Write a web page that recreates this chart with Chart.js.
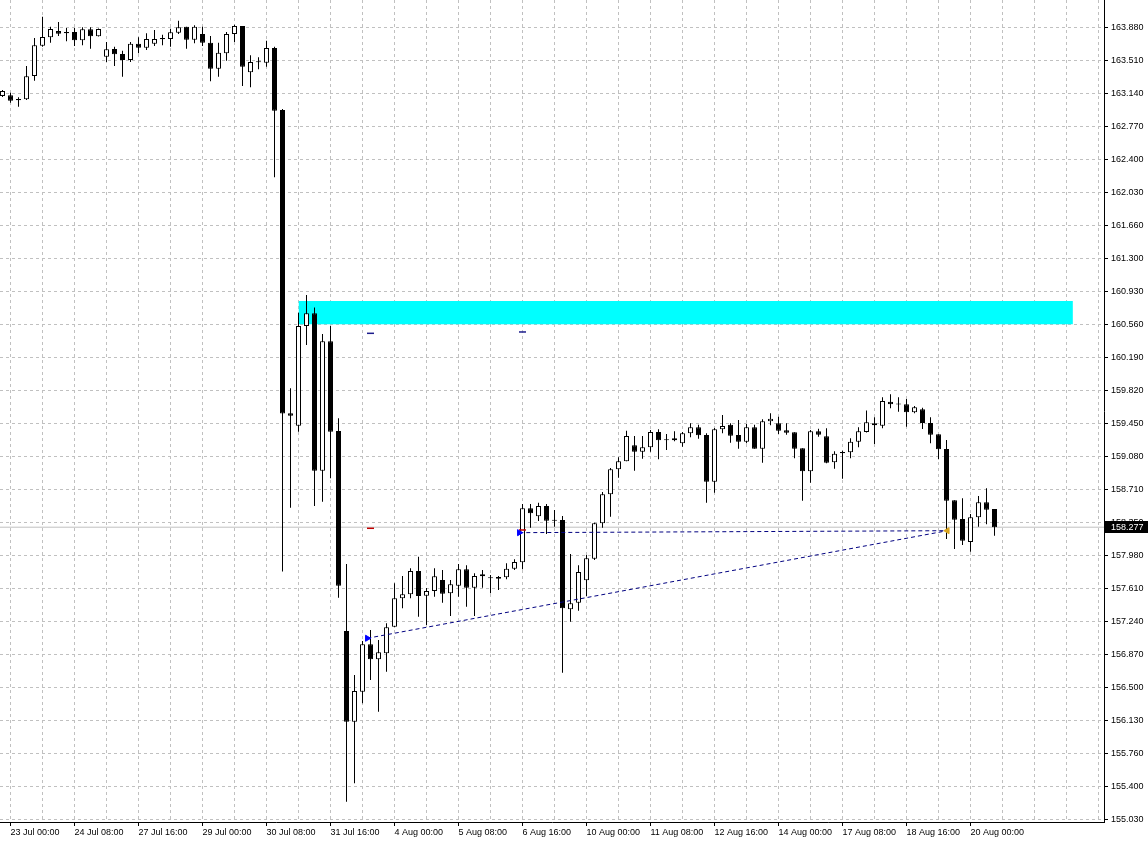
<!DOCTYPE html>
<html>
<head>
<meta charset="utf-8">
<script src="https://cdn.jsdelivr.net/npm/chart.js@4.4.1/dist/chart.umd.min.js"></script>
<style>
html,body{margin:0;padding:0;background:#fff;}
canvas{display:block;}
</style>
</head>
<body>
<canvas id="myChart" width="1148" height="841"></canvas>
<script>
// H4 bars, first bar 22 Jul 20:00
const open = [
163.112,163.120,163.078,163.075,163.336,163.676,163.770,163.840,163.829,163.829,
163.736,163.860,163.781,163.552,163.639,163.583,163.515,163.698,163.653,163.698,
163.762,163.751,163.821,163.889,163.743,163.807,163.709,163.418,163.590,163.807,
163.897,163.377,163.490,163.485,163.651,162.955,159.554,159.415,160.533,160.675,
158.911,160.361,159.356,157.113,156.096,156.433,156.964,156.796,156.863,157.161,
157.480,157.525,157.786,157.509,157.562,157.685,157.536,157.621,157.805,157.599,
157.726,157.704,157.719,157.715,157.812,157.884,158.489,158.399,158.515,158.350,
158.358,157.357,157.431,157.682,157.924,158.321,158.646,158.926,159.016,159.195,
159.124,159.173,159.344,159.255,159.251,159.218,159.330,159.397,159.311,158.787,
159.375,159.426,159.311,159.236,159.397,159.157,159.464,159.442,159.364,159.341,
159.162,158.904,159.352,159.296,159.005,159.120,159.117,159.236,159.344,159.442,
159.415,159.684,159.655,159.655,159.565,159.599,159.445,159.319,159.154,158.579,
158.369,158.111,158.388,158.556,158.481];
const high = [
163.179,163.149,163.097,163.448,163.762,164.001,163.889,163.941,163.874,163.874,
163.882,163.882,163.869,163.717,163.664,163.620,163.717,163.770,163.815,163.852,
163.799,163.866,163.956,163.889,163.904,163.889,163.784,163.709,163.829,163.911,
163.897,163.568,163.546,163.732,163.664,162.966,159.834,160.682,160.880,160.740,
160.443,160.533,159.498,157.865,156.620,157.001,157.125,157.013,157.200,157.648,
157.730,157.816,157.946,157.595,157.816,157.797,157.685,157.864,157.850,157.760,
157.797,157.741,157.730,157.872,157.917,158.537,158.537,158.552,158.537,158.470,
158.403,157.977,157.850,157.966,158.328,158.672,158.941,159.061,159.359,159.300,
159.300,159.367,159.375,159.322,159.352,159.344,159.442,159.426,159.330,159.389,
159.535,159.442,159.479,159.434,159.426,159.487,159.554,159.516,159.442,159.341,
159.162,159.367,159.381,159.386,159.128,159.135,159.274,159.397,159.586,159.509,
159.734,159.767,159.734,159.715,159.636,159.617,159.509,159.319,159.255,158.579,
158.601,158.425,158.627,158.713,158.481];
const low = [
163.100,163.037,162.992,163.067,163.283,163.664,163.709,163.784,163.725,163.672,
163.680,163.642,163.779,163.493,163.448,163.328,163.493,163.590,163.627,163.672,
163.680,163.664,163.807,163.642,163.703,163.672,163.276,163.328,163.507,163.717,
163.224,163.209,163.411,163.440,162.202,157.780,158.496,159.348,160.320,158.515,
158.563,158.825,157.487,155.199,155.406,156.303,156.564,156.208,156.657,157.155,
157.368,157.480,157.274,157.181,157.498,157.431,157.281,157.498,157.386,157.281,
157.599,157.536,157.573,157.693,157.797,157.805,158.271,158.347,158.201,158.283,
156.646,157.218,157.341,157.506,157.909,158.271,158.395,158.832,159.016,158.911,
159.045,159.124,159.038,159.143,159.240,159.180,159.285,159.269,158.552,158.664,
159.330,159.225,159.157,159.218,159.157,159.000,159.420,159.322,159.314,159.049,
158.574,158.776,159.292,158.994,158.933,158.821,159.049,159.173,159.339,159.210,
159.386,159.610,159.572,159.404,159.554,159.378,159.218,159.038,158.145,158.033,
158.078,158.002,158.283,158.309,158.182];
const close = [
163.168,163.059,163.063,163.333,163.680,163.773,163.863,163.810,163.815,163.736,
163.860,163.781,163.863,163.635,163.579,163.515,163.698,163.653,163.751,163.751,
163.747,163.826,163.882,163.743,163.889,163.709,163.418,163.597,163.807,163.897,
163.440,163.493,163.501,163.650,162.947,159.552,159.527,160.533,160.675,158.911,
160.361,159.348,157.621,156.096,156.440,156.964,156.796,156.875,157.155,157.480,
157.525,157.786,157.506,157.562,157.726,157.532,157.637,157.805,157.599,157.730,
157.749,157.707,157.700,157.812,157.887,158.489,158.433,158.515,158.350,158.355,
157.368,157.424,157.775,157.929,158.321,158.646,158.926,159.016,159.300,159.124,
159.173,159.344,159.251,159.253,159.274,159.330,159.397,159.307,158.787,159.375,
159.412,159.303,159.236,159.397,159.157,159.464,159.493,159.359,159.337,159.157,
158.904,159.352,159.314,159.000,159.101,159.106,159.236,159.352,159.453,159.420,
159.692,159.655,159.653,159.565,159.621,159.445,159.314,159.150,158.574,158.361,
158.126,158.388,158.556,158.473,158.277];

const xLabels = ['23 Jul 00:00','24 Jul 08:00','27 Jul 16:00','29 Jul 00:00','30 Jul 08:00','31 Jul 16:00',
  '4 Aug 00:00','5 Aug 08:00','6 Aug 16:00','10 Aug 00:00','11 Aug 08:00','12 Aug 16:00',
  '14 Aug 00:00','17 Aug 08:00','18 Aug 16:00','20 Aug 00:00'];
const xLabelIdx = [1,9,17,25,33,41,49,57,65,73,81,89,97,105,113,121];

const yLabels = ['163.880','163.510','163.140','162.770','162.400','162.030','161.660','161.300',
  '160.930','160.560','160.190','159.820','159.450','159.080','158.710','158.350','157.980',
  '157.610','157.240','156.870','156.500','156.130','155.760','155.400','155.030'];
const yTicks = [163.88,163.51,163.14,162.77,162.40,162.03,161.66,161.29,160.92,160.55,160.18,
  159.81,159.44,159.07,158.70,158.33,157.96,157.59,157.22,156.85,156.48,156.11,155.74,155.37,155.00];

// supply zone (bar index from / to, price top / bottom)
const zoneX = [37, 133.8];
const zoneY = [160.814, 160.552];

// trade lines
const trade1X = [45.6, 118.1];
const trade1Y = [157.032, 158.238];
const trade2X = [64.6, 118.1];
const trade2Y = [158.216, 158.238];
const tpX = [46, 65];
const tpY = [160.451, 160.466];
const slX = [46, 65];
const slY = [158.265, 158.246];

const idx = open.map((_, i) => i);
const last = close[close.length - 1];
const pts = (xs, ys) => xs.map((x, i) => ({x: x, y: ys[i]}));
const noPad = s => { s.paddingLeft = 0; s.paddingRight = 0; s.paddingTop = 0; s.paddingBottom = 0; };

const priceBox = {
  id: 'priceBox',
  afterDraw(chart) {
    const c = chart.ctx;
    const y = Math.round(chart.scales.y.getPixelForValue(last));
    c.save();
    c.fillStyle = '#000';
    c.fillRect(chart.chartArea.right + 1, y - 6, 44, 12);
    c.fillStyle = '#fff';
    c.font = '9px "Liberation Sans"';
    c.textBaseline = 'middle';
    c.fillText(last.toFixed(3), chart.chartArea.right + 7, y + 0.5);
    c.restore();
  }
};

const ctx = document.getElementById('myChart');
const myChart = new Chart(ctx, {
  type: 'bar',
  data: {
    datasets: [
      {
        type: 'line', data: pts(trade1X.concat(trade2X[0]), trade1Y.concat(trade2Y[0])),
        showLine: false, pointStyle: 'triangle', pointRadius: 3.5,
        rotation: [90, -90, 90], pointBackgroundColor: ['#0000ff', '#daa520', '#0000ff'],
        pointBorderColor: ['#0000ff', '#daa520', '#0000ff'], pointBorderWidth: 1, order: 0
      },
      {
        type: 'line', data: pts(tpX, tpY), showLine: false, pointStyle: 'line', pointRadius: 3.5,
        pointBorderColor: '#1c1c8c', pointBorderWidth: 1.5, order: 0
      },
      {
        type: 'line', data: pts(slX, slY), showLine: false, pointStyle: 'line', pointRadius: 3.5,
        pointBorderColor: '#c00000', pointBorderWidth: 1.5, order: 0
      },
      {
        type: 'line', data: pts(trade1X, trade1Y), borderColor: '#000080', borderWidth: 1,
        borderDash: [4, 3], pointRadius: 0, order: 1
      },
      {
        type: 'line', data: pts(trade2X, trade2Y), borderColor: '#000080', borderWidth: 1,
        borderDash: [4, 3], pointRadius: 0, order: 1
      },
      {
        data: idx.map(i => ({x: i, y: [open[i], close[i]]})),
        backgroundColor: idx.map(i => close[i] >= open[i] ? '#ffffff' : '#000000'),
        borderColor: '#000', borderWidth: 1, borderSkipped: false,
        barThickness: 5, minBarLength: 1, grouped: false, inflateAmount: 0, order: 2
      },
      {
        data: idx.map(i => ({x: i, y: [low[i], high[i]]})),
        backgroundColor: '#000', borderWidth: 0,
        barThickness: 1, grouped: false, inflateAmount: 0, order: 3
      },
      {
        type: 'line', data: [{x: zoneX[0], y: zoneY[0]}, {x: zoneX[1], y: zoneY[0]}],
        fill: {value: zoneY[1]}, backgroundColor: '#00ffff', borderWidth: 0, pointRadius: 0, order: 4
      },
      {
        type: 'line', data: [{x: -1, y: last}, {x: 140, y: last}],
        borderColor: '#c0c0c0', borderWidth: 1, pointRadius: 0, order: 5
      }
    ]
  },
  options: {
    responsive: false,
    animation: false,
    devicePixelRatio: 1,
    layout: {padding: 0, autoPadding: false},
    plugins: {legend: {display: false}, tooltip: {enabled: false}},
    scales: {
      x: {
        type: 'linear', position: 'bottom', min: -0.3125, max: 137.6875, offset: false,
        afterBuildTicks: s => { const t = []; for (let v = 1; v <= 137; v += 4) t.push({value: v}); s.ticks = t; },
        afterFit: s => { s.height = 19; noPad(s); },
        ticks: {
          autoSkip: false, maxRotation: 0, align: 'start', padding: 1, color: '#000',
          font: {family: 'Liberation Sans', size: 9},
          callback: v => { const j = xLabelIdx.indexOf(v); return j >= 0 ? xLabels[j] : ''; }
        },
        grid: {
          color: '#c0c0c0', offset: false, tickLength: 4,
          tickColor: c => (c.tick && xLabelIdx.includes(c.tick.value)) ? '#000' : 'rgba(0,0,0,0)'
        },
        border: {display: true, color: '#000', width: 1, dash: [3, 3]}
      },
      y: {
        type: 'linear', position: 'right', min: 154.972, max: 164.188,
        afterBuildTicks: s => { s.ticks = yTicks.map(v => ({value: v})); },
        afterFit: s => { s.width = 44; noPad(s); },
        ticks: {
          color: '#000', padding: 3, crossAlign: 'near',
          font: {family: 'Liberation Sans', size: 9},
          callback: (v, i) => yLabels[i]
        },
        grid: {color: '#c0c0c0', tickLength: 4, tickColor: '#000'},
        border: {display: true, color: '#000', width: 1, dash: [3, 3]}
      }
    }
  },
  plugins: [priceBox]
});
</script>
</body>
</html>
